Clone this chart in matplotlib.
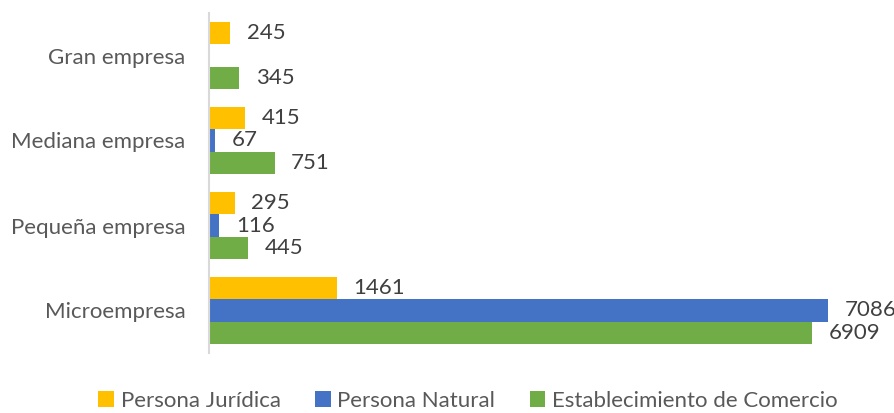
import matplotlib

matplotlib.use('Agg')
import numpy as np
import matplotlib.pyplot as plt

plt.rcParams['font.family'] = ['Lato', 'DejaVu Sans']

# categories bottom -> top
categories = ['Microempresa', 'Pequeña empresa', 'Mediana empresa', 'Gran empresa']
juridica = [1461, 295, 415, 245]
natural = [7086, 116, 67, 0]
comercio = [6909, 445, 751, 345]
series_names = ['Persona Jurídica', 'Persona Natural', 'Establecimiento de Comercio']
colors = ['#FFC000', '#4472C4', '#70AD47']

fig = plt.figure(figsize=(8.95, 4.13), dpi=100)
ax = fig.add_axes([209 / 895, 60 / 413, 661 / 895, 340 / 413])

y = np.arange(len(categories))
h = 0.265
offsets = [h, 0, -h]
for vals, off, name, c in zip([juridica, natural, comercio], offsets, series_names, colors):
    bars = ax.barh(y + off, vals, height=h, color=c, label=name)
    labels = [str(v) if v > 0 else '' for v in vals]
    ax.bar_label(bars, labels=labels, padding=12, fontsize=16, color='#404040')

ax.set_xlim(0, 7571)
ax.set_ylim(-0.5, len(categories) - 0.5)
ax.set_yticks(y)
ax.set_yticklabels(categories, fontsize=16, color='#595959')
ax.tick_params(axis='y', length=0, pad=17)
ax.set_xticks([])
for s in ['top', 'right', 'bottom']:
    ax.spines[s].set_visible(False)
ax.spines['left'].set_color('#D9D9D9')
ax.spines['left'].set_linewidth(1.5)

handles, labels = ax.get_legend_handles_labels()
leg = fig.legend(handles, labels, loc='center', bbox_to_anchor=(468 / 895, 12 / 413), ncol=3,
                 frameon=False, fontsize=16, handlelength=0.7, handleheight=0.7,
                 handletextpad=0.3, columnspacing=1.55, borderaxespad=0)
for t in leg.get_texts():
    t.set_color('#595959')

fig.savefig('out.png', dpi=100)
